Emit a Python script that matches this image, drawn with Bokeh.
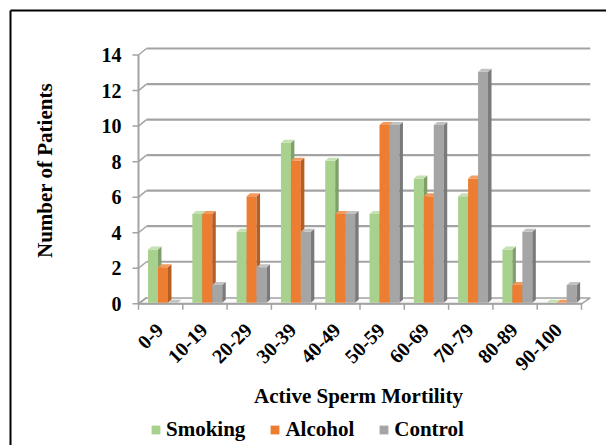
import math
from bokeh.plotting import figure
from bokeh.models import Range1d, ColumnDataSource, Legend, LegendItem
from bokeh.core.properties import value
from bokeh.embed import file_html
from bokeh.resources import INLINE

# ---------------- data ----------------
categories = ["0-9", "10-19", "20-29", "30-39", "40-49", "50-59", "60-69", "70-79", "80-89", "90-100"]
smoking = [3, 5, 4, 9, 8, 5, 7, 6, 3, 0]
alcohol = [2, 5, 6, 8, 5, 10, 6, 7, 1, 0]
control = [0, 1, 2, 4, 5, 10, 10, 13, 4, 1]
series_names = ["Smoking", "Alcohol", "Control"]
y_ticks = [0, 2, 4, 6, 8, 10, 12, 14]
x_title = "Active Sperm Mortility"
y_title = "Number of Patients"

# ---------------- layout helpers (page pixels -> data) ----------------
FIG_W, FIG_H, M = 606, 445, 0
X0, U = 138.0, 44.3          # page x of category 0 start, px per category
Y0, V = 303.3, 17.77         # page y of value 0, px per unit


def dx(px):
    return (px - X0) / U


def dy(py):
    return (Y0 - py) / V


WALL_DX, WALL_DY = 8.0 / U, 6.5 / V   # back wall offset
BAR_DX, BAR_DY = 3.5 / U, 3.0 / V      # bar depth
BASE = 1.0 / V
BAR_START, BAR_W = 0.215, 0.225

FONT = value("Liberation Serif")

p = figure(width=FIG_W, height=FIG_H,
           x_range=Range1d(dx(M), dx(M + FIG_W)),
           y_range=Range1d(dy(M + FIG_H), dy(M)),
           toolbar_location=None, output_backend="svg",
           x_axis_location=None, y_axis_location=None,
           min_border=0, outline_line_color=None)
p.grid.visible = False
p.background_fill_color = "white"
p.border_fill_color = "white"

# chart border (left and top visible)
p.line([dx(10), dx(10)], [dy(M + FIG_H), dy(10)], line_color="black", line_width=2)
p.line([dx(10), dx(M + FIG_W)], [dy(10), dy(10)], line_color="black", line_width=2)

GRID_C = "#A3A3A3"
n = len(categories)

# floor
p.patch([0, n, n + WALL_DX * 1.1, WALL_DX], [0, 0, WALL_DY * 0.9, WALL_DY * 0.9],
        fill_color="#FAFAFA", line_color=GRID_C, line_width=1.5)

# back wall gridlines + diagonals + ticks
p.multi_line([[WALL_DX, n + WALL_DX * 1.1] for v in y_ticks[1:]],
             [[v + WALL_DY, v + WALL_DY] for v in y_ticks[1:]],
             line_color=GRID_C, line_width=2.2)
p.multi_line([[0, WALL_DX] for v in y_ticks],
             [[v, v + WALL_DY] for v in y_ticks],
             line_color=GRID_C, line_width=1.5)
p.multi_line([[dx(132), 0] for v in y_ticks],
             [[v, v] for v in y_ticks],
             line_color=GRID_C, line_width=1.5)
p.line([0, 0], [0, y_ticks[-1]], line_color=GRID_C, line_width=2)
p.line([0, n], [0, 0], line_color=GRID_C, line_width=2)
p.multi_line([[i, i] for i in range(n + 1)],
             [[0, -6.0 / V] for i in range(n + 1)],
             line_color=GRID_C, line_width=1.5)

# bars (3D)
colors = [("#A9D18E", "#7FA068", "#C5E0B1"),
          ("#ED7D31", "#B55D22", "#F39B5F"),
          ("#A5A5A5", "#7A7A7A", "#C2C2C2")]
front_renderers = []
for s, vals in enumerate([smoking, alcohol, control]):
    fc, sc, tc = colors[s]
    lefts = [i + BAR_START + s * BAR_W for i in range(n)]
    rights = [l + BAR_W for l in lefts]
    bottoms = [BASE] * n
    tops = [v + BASE for v in vals]
    src = ColumnDataSource(dict(left=lefts, right=rights, bottom=bottoms, top=tops))
    r = p.quad(left="left", right="right", bottom="bottom", top="top", source=src,
               fill_color=fc, line_color=None)
    front_renderers.append(r)
    # side faces
    p.patches([[rr, rr + BAR_DX, rr + BAR_DX, rr] for rr in rights],
              [[b, b + BAR_DY, t + BAR_DY, t] for b, t in zip(bottoms, tops)],
              fill_color=sc, line_color=None)
    # top faces
    p.patches([[l, rr, rr + BAR_DX, l + BAR_DX] for l, rr in zip(lefts, rights)],
              [[t, t, t + BAR_DY, t + BAR_DY] for t in tops],
              fill_color=tc, line_color=None)

# y tick labels
p.text(x=[dx(121)] * len(y_ticks), y=y_ticks, text=[str(v) for v in y_ticks],
       text_align="right", text_baseline="middle", text_font=FONT,
       text_font_style="bold", text_font_size=value("20px"), text_color="black")

# x tick labels (rotated)
p.text(x=[i + 0.5 - 1.0 / U for i in range(n)], y=[dy(326)] * n, text=categories,
       angle=math.pi / 4, text_align="right", text_baseline="middle", text_font=FONT,
       text_font_style="bold", text_font_size=value("20px"), text_color="black")

# axis titles
p.text(x=[dx(358)], y=[dy(395)], text=[x_title], text_align="center",
       text_baseline="middle", text_font=FONT, text_font_style="bold",
       text_font_size=value("21px"), text_color="black")
p.text(x=[dx(44)], y=[dy(170)], text=[y_title], angle=math.pi / 2, text_align="center",
       text_baseline="middle", text_font=FONT, text_font_style="bold",
       text_font_size=value("21px"), text_color="black")

legend = Legend(items=[LegendItem(label=nm, renderers=[r]) for nm, r in zip(series_names, front_renderers)],
                location=(150, 3), orientation="horizontal",
                glyph_width=11, glyph_height=11, label_height=11, label_standoff=5,
                spacing=24, padding=0, margin=0, border_line_color=None,
                background_fill_alpha=0, label_text_font="Liberation Serif",
                label_text_font_style="bold", label_text_font_size="21px",
                label_text_color="black")
p.add_layout(legend)

open("out.html", "w").write(file_html(p, INLINE))
